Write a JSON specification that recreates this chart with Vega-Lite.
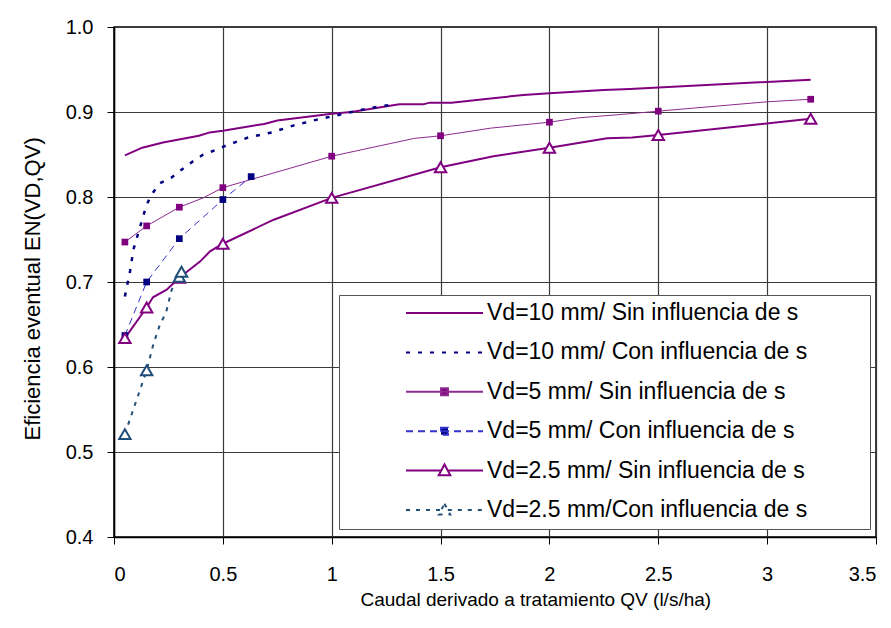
{
  "$schema": "https://vega.github.io/schema/vega-lite/v6.json",
  "width": 762,
  "height": 510,
  "autosize": "none",
  "padding": {"left": 114, "top": 27, "right": 15, "bottom": 91},
  "background": "white",
  "config": {
    "font": "Liberation Sans",
    "view": {"stroke": "#000", "strokeWidth": 1.5},
    "axis": {
      "labelFont": "Liberation Sans", "labelColor": "#000", "labelFontSize": 20,
      "titleFont": "Liberation Sans", "titleColor": "#000", "titleFontWeight": "normal",
      "domainColor": "#000", "domainWidth": 1.5, "tickColor": "#000", "tickSize": 7,
      "gridColor": "#3a3a3a", "gridOpacity": 1, "gridWidth": 1.2
    }
  },
  "data": {"values": [
    {"s":"Vd=10 mm/ Sin influencia de s","x":0.05,"y":0.849,"m":0},
    {"s":"Vd=10 mm/ Sin influencia de s","x":0.13,"y":0.858,"m":0},
    {"s":"Vd=10 mm/ Sin influencia de s","x":0.225,"y":0.864,"m":0},
    {"s":"Vd=10 mm/ Sin influencia de s","x":0.39,"y":0.872,"m":0},
    {"s":"Vd=10 mm/ Sin influencia de s","x":0.44,"y":0.876,"m":0},
    {"s":"Vd=10 mm/ Sin influencia de s","x":0.5,"y":0.878,"m":0},
    {"s":"Vd=10 mm/ Sin influencia de s","x":0.69,"y":0.886,"m":0},
    {"s":"Vd=10 mm/ Sin influencia de s","x":0.75,"y":0.890,"m":0},
    {"s":"Vd=10 mm/ Sin influencia de s","x":1.0,"y":0.898,"m":0},
    {"s":"Vd=10 mm/ Sin influencia de s","x":1.09,"y":0.900,"m":0},
    {"s":"Vd=10 mm/ Sin influencia de s","x":1.31,"y":0.909,"m":0},
    {"s":"Vd=10 mm/ Sin influencia de s","x":1.42,"y":0.909,"m":0},
    {"s":"Vd=10 mm/ Sin influencia de s","x":1.45,"y":0.911,"m":0},
    {"s":"Vd=10 mm/ Sin influencia de s","x":1.55,"y":0.911,"m":0},
    {"s":"Vd=10 mm/ Sin influencia de s","x":1.73,"y":0.916,"m":0},
    {"s":"Vd=10 mm/ Sin influencia de s","x":1.88,"y":0.920,"m":0},
    {"s":"Vd=10 mm/ Sin influencia de s","x":2.0,"y":0.922,"m":0},
    {"s":"Vd=10 mm/ Sin influencia de s","x":2.25,"y":0.926,"m":0},
    {"s":"Vd=10 mm/ Sin influencia de s","x":2.37,"y":0.927,"m":0},
    {"s":"Vd=10 mm/ Sin influencia de s","x":3.2,"y":0.938,"m":0},

    {"s":"Vd=10 mm/ Con influencia de s","x":0.05,"y":0.683,"m":0},
    {"s":"Vd=10 mm/ Con influencia de s","x":0.074,"y":0.713,"m":0},
    {"s":"Vd=10 mm/ Con influencia de s","x":0.089,"y":0.738,"m":0},
    {"s":"Vd=10 mm/ Con influencia de s","x":0.12,"y":0.765,"m":0},
    {"s":"Vd=10 mm/ Con influencia de s","x":0.15,"y":0.791,"m":0},
    {"s":"Vd=10 mm/ Con influencia de s","x":0.173,"y":0.803,"m":0},
    {"s":"Vd=10 mm/ Con influencia de s","x":0.21,"y":0.816,"m":0},
    {"s":"Vd=10 mm/ Con influencia de s","x":0.265,"y":0.823,"m":0},
    {"s":"Vd=10 mm/ Con influencia de s","x":0.31,"y":0.832,"m":0},
    {"s":"Vd=10 mm/ Con influencia de s","x":0.357,"y":0.841,"m":0},
    {"s":"Vd=10 mm/ Con influencia de s","x":0.41,"y":0.850,"m":0},
    {"s":"Vd=10 mm/ Con influencia de s","x":0.464,"y":0.855,"m":0},
    {"s":"Vd=10 mm/ Con influencia de s","x":0.51,"y":0.860,"m":0},
    {"s":"Vd=10 mm/ Con influencia de s","x":0.616,"y":0.870,"m":0},
    {"s":"Vd=10 mm/ Con influencia de s","x":0.725,"y":0.876,"m":0},
    {"s":"Vd=10 mm/ Con influencia de s","x":0.823,"y":0.884,"m":0},
    {"s":"Vd=10 mm/ Con influencia de s","x":0.932,"y":0.891,"m":0},
    {"s":"Vd=10 mm/ Con influencia de s","x":1.039,"y":0.897,"m":0},
    {"s":"Vd=10 mm/ Con influencia de s","x":1.163,"y":0.904,"m":0},
    {"s":"Vd=10 mm/ Con influencia de s","x":1.26,"y":0.908,"m":0},

    {"s":"Vd=5 mm/ Sin influencia de s","x":0.05,"y":0.747,"m":1},
    {"s":"Vd=5 mm/ Sin influencia de s","x":0.15,"y":0.766,"m":1},
    {"s":"Vd=5 mm/ Sin influencia de s","x":0.3,"y":0.788,"m":1},
    {"s":"Vd=5 mm/ Sin influencia de s","x":0.41,"y":0.799,"m":0},
    {"s":"Vd=5 mm/ Sin influencia de s","x":0.5,"y":0.811,"m":1},
    {"s":"Vd=5 mm/ Sin influencia de s","x":1.0,"y":0.848,"m":1},
    {"s":"Vd=5 mm/ Sin influencia de s","x":1.38,"y":0.869,"m":0},
    {"s":"Vd=5 mm/ Sin influencia de s","x":1.5,"y":0.872,"m":1},
    {"s":"Vd=5 mm/ Sin influencia de s","x":1.73,"y":0.881,"m":0},
    {"s":"Vd=5 mm/ Sin influencia de s","x":2.0,"y":0.888,"m":1},
    {"s":"Vd=5 mm/ Sin influencia de s","x":2.13,"y":0.893,"m":0},
    {"s":"Vd=5 mm/ Sin influencia de s","x":2.37,"y":0.898,"m":0},
    {"s":"Vd=5 mm/ Sin influencia de s","x":2.5,"y":0.901,"m":1},
    {"s":"Vd=5 mm/ Sin influencia de s","x":3.0,"y":0.912,"m":0},
    {"s":"Vd=5 mm/ Sin influencia de s","x":3.2,"y":0.915,"m":1},

    {"s":"Vd=5 mm/ Con influencia de s","x":0.05,"y":0.637,"m":1},
    {"s":"Vd=5 mm/ Con influencia de s","x":0.15,"y":0.700,"m":1},
    {"s":"Vd=5 mm/ Con influencia de s","x":0.3,"y":0.751,"m":1},
    {"s":"Vd=5 mm/ Con influencia de s","x":0.5,"y":0.797,"m":1},
    {"s":"Vd=5 mm/ Con influencia de s","x":0.63,"y":0.824,"m":1},

    {"s":"Vd=2.5 mm/ Sin influencia de s","x":0.05,"y":0.634,"m":1},
    {"s":"Vd=2.5 mm/ Sin influencia de s","x":0.15,"y":0.670,"m":1},
    {"s":"Vd=2.5 mm/ Sin influencia de s","x":0.179,"y":0.682,"m":0},
    {"s":"Vd=2.5 mm/ Sin influencia de s","x":0.242,"y":0.691,"m":0},
    {"s":"Vd=2.5 mm/ Sin influencia de s","x":0.3,"y":0.705,"m":1},
    {"s":"Vd=2.5 mm/ Sin influencia de s","x":0.395,"y":0.724,"m":0},
    {"s":"Vd=2.5 mm/ Sin influencia de s","x":0.441,"y":0.736,"m":0},
    {"s":"Vd=2.5 mm/ Sin influencia de s","x":0.5,"y":0.745,"m":1},
    {"s":"Vd=2.5 mm/ Sin influencia de s","x":0.731,"y":0.773,"m":0},
    {"s":"Vd=2.5 mm/ Sin influencia de s","x":1.0,"y":0.799,"m":1},
    {"s":"Vd=2.5 mm/ Sin influencia de s","x":1.5,"y":0.835,"m":1},
    {"s":"Vd=2.5 mm/ Sin influencia de s","x":1.743,"y":0.848,"m":0},
    {"s":"Vd=2.5 mm/ Sin influencia de s","x":2.0,"y":0.858,"m":1},
    {"s":"Vd=2.5 mm/ Sin influencia de s","x":2.265,"y":0.869,"m":0},
    {"s":"Vd=2.5 mm/ Sin influencia de s","x":2.38,"y":0.870,"m":0},
    {"s":"Vd=2.5 mm/ Sin influencia de s","x":2.5,"y":0.873,"m":1},
    {"s":"Vd=2.5 mm/ Sin influencia de s","x":3.2,"y":0.892,"m":1},

    {"s":"Vd=2.5 mm/Con influencia de s","x":0.05,"y":0.521,"m":1},
    {"s":"Vd=2.5 mm/Con influencia de s","x":0.15,"y":0.596,"m":1},
    {"s":"Vd=2.5 mm/Con influencia de s","x":0.181,"y":0.627,"m":0},
    {"s":"Vd=2.5 mm/Con influencia de s","x":0.211,"y":0.650,"m":0},
    {"s":"Vd=2.5 mm/Con influencia de s","x":0.239,"y":0.664,"m":0},
    {"s":"Vd=2.5 mm/Con influencia de s","x":0.265,"y":0.691,"m":0},
    {"s":"Vd=2.5 mm/Con influencia de s","x":0.3,"y":0.706,"m":1},
    {"s":"Vd=2.5 mm/Con influencia de s","x":0.31,"y":0.712,"m":1}
  ]},
  "encoding": {
    "x": {"field": "x", "type": "quantitative",
      "scale": {"domain": [0, 3.5], "nice": false, "zero": false},
      "axis": {"values": [0, 0.5, 1, 1.5, 2, 2.5, 3, 3.5], "format": "~g", "labelPadding": 20,
        "title": "Caudal derivado a tratamiento QV (l/s/ha)", "titleFontSize": 19,
        "titleAlign": "left", "titleBaseline": "alphabetic", "titleX": 246, "titleY": 68}},
    "y": {"field": "y", "type": "quantitative",
      "scale": {"domain": [0.4, 1.0], "nice": false, "zero": false},
      "axis": {"values": [0.4, 0.5, 0.6, 0.7, 0.8, 0.9, 1.0], "format": ".1f", "labelPadding": 14,
        "title": "Eficiencia eventual EN(VD,QV)", "titleFontSize": 22, "titleAngle": -90,
        "titleAlign": "left", "titleBaseline": "alphabetic", "titleX": -75, "titleY": 413}}
  },
  "layer": [
    {
      "transform": [{"filter": "datum.s === 'Vd=10 mm/ Sin influencia de s'"}],
      "mark": {"type": "line", "strokeWidth": 2},
      "encoding": {"color": {"field": "s", "type": "nominal",
        "scale": {"domain": ["Vd=10 mm/ Sin influencia de s", "Vd=10 mm/ Con influencia de s", "Vd=5 mm/ Sin influencia de s", "Vd=5 mm/ Con influencia de s", "Vd=2.5 mm/ Sin influencia de s", "Vd=2.5 mm/Con influencia de s"],
                  "range": ["#800080", "#000080", "#8e2a8e", "#3333cc", "#800080", "#1f4e79"]},
        "legend": {
          "orient": "none", "legendX": 225, "legendY": 268,
          "title": "\u00a0", "titleOrient": "right", "titlePadding": 56, "titleFontSize": 23,
          "padding": 7, "fillColor": "white", "strokeColor": "#555",
          "symbolSize": 5929, "symbolStrokeWidth": 2, "symbolOffset": 59, "labelOffset": 3,
          "clipHeight": 22, "rowPadding": 16.4,
          "labelFont": "Liberation Sans", "labelFontSize": 23, "labelColor": "#000", "labelLimit": 600,
          "encode": {"symbols": {"update": {
            "shape": {"signal": "['M-1,0L1,0','M-1,0L1,0','M-1,0L1,0M-0.09,-0.09L0.09,-0.09L0.09,0.09L-0.09,0.09Z','M-1,0L1,0M-0.09,-0.09L0.09,-0.09L0.09,0.09L-0.09,0.09Z','M-1,0L-0.086,0M0.086,0L1,0M0,-0.16L0.15,0.12L-0.15,0.12Z','M-1,0L-0.086,0M0.086,0L1,0M0,-0.16L0.15,0.12L-0.15,0.12Z'][datum.index]"},
            "fill": {"signal": "['transparent','transparent','#800080','#000080','white','white'][datum.index]"},
            "strokeDash": {"signal": "[[1,0],[4,8],[1,0],[7,5],[1,0],[4,6]][datum.index]"},
            "opacity": {"value": 1}
          }}}
        }}}
    },
    {
      "transform": [{"filter": "datum.s === 'Vd=10 mm/ Con influencia de s'"}],
      "mark": {"type": "line", "strokeWidth": 2.5, "strokeDash": [4, 8]},
      "encoding": {"color": {"field": "s", "type": "nominal"}}
    },
    {
      "transform": [{"filter": "datum.s === 'Vd=5 mm/ Sin influencia de s'"}],
      "mark": {"type": "line", "strokeWidth": 1},
      "encoding": {"color": {"field": "s", "type": "nominal"}}
    },
    {
      "transform": [{"filter": "datum.s === 'Vd=5 mm/ Con influencia de s'"}],
      "mark": {"type": "line", "strokeWidth": 1, "strokeDash": [7, 5]},
      "encoding": {"color": {"field": "s", "type": "nominal"}}
    },
    {
      "transform": [{"filter": "datum.s === 'Vd=2.5 mm/ Sin influencia de s'"}],
      "mark": {"type": "line", "strokeWidth": 2},
      "encoding": {"color": {"field": "s", "type": "nominal"}}
    },
    {
      "transform": [{"filter": "datum.s === 'Vd=2.5 mm/Con influencia de s'"}],
      "mark": {"type": "line", "strokeWidth": 2, "strokeDash": [4, 6]},
      "encoding": {"color": {"field": "s", "type": "nominal"}}
    },
    {
      "transform": [{"filter": "datum.m === 1 && datum.s === 'Vd=5 mm/ Sin influencia de s'"}],
      "mark": {"type": "point", "shape": "square", "size": 45, "filled": true, "color": "#800080", "opacity": 1}
    },
    {
      "transform": [{"filter": "datum.m === 1 && datum.s === 'Vd=5 mm/ Con influencia de s'"}],
      "mark": {"type": "point", "shape": "square", "size": 45, "filled": true, "color": "#000080", "opacity": 1}
    },
    {
      "transform": [{"filter": "datum.m === 1 && datum.s === 'Vd=2.5 mm/ Sin influencia de s'"}],
      "mark": {"type": "point", "shape": "triangle-up", "size": 130, "filled": true, "fill": "white", "stroke": "#800080", "strokeWidth": 2, "opacity": 1}
    },
    {
      "transform": [{"filter": "datum.m === 1 && datum.s === 'Vd=2.5 mm/Con influencia de s'"}],
      "mark": {"type": "point", "shape": "triangle-up", "size": 130, "filled": true, "fill": "white", "stroke": "#1f4e79", "strokeWidth": 2, "opacity": 1}
    }
  ]
}
